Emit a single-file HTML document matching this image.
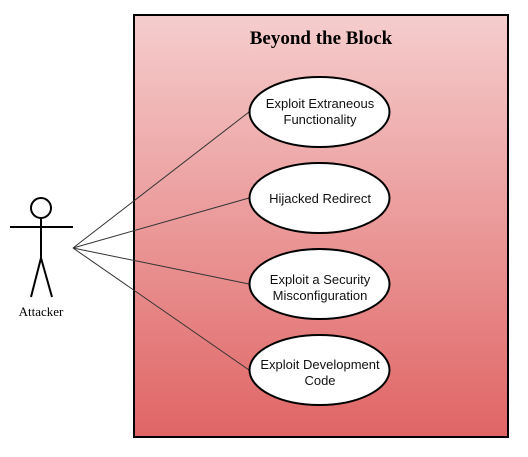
<!DOCTYPE html>
<html><head><style>html,body{margin:0;padding:0;background:#fff;}svg{display:block}</style></head>
<body>
<svg width="528" height="457" viewBox="0 0 528 457" xmlns="http://www.w3.org/2000/svg">
<defs><linearGradient id="g" x1="0" y1="0" x2="0" y2="1"><stop offset="0" stop-color="#f5cdcd"/><stop offset="1" stop-color="#e06565"/></linearGradient></defs>
<rect x="134" y="15" width="374" height="422" fill="url(#g)" stroke="#000" stroke-width="2"/>
<text x="321" y="44" text-anchor="middle" font-family="Liberation Serif, serif" font-weight="bold" font-size="19">Beyond the Block</text>
<g stroke="#333" stroke-width="1" fill="none">
<line x1="73" y1="248" x2="249" y2="112"/>
<line x1="73" y1="248" x2="249" y2="198"/>
<line x1="73" y1="248" x2="249" y2="284"/>
<line x1="73" y1="248" x2="249" y2="370"/>
</g>
<g stroke="#000" stroke-width="2" fill="#fff">
<ellipse cx="319.5" cy="112" rx="70" ry="35"/>
<ellipse cx="319.5" cy="198" rx="70" ry="35"/>
<ellipse cx="319.5" cy="284" rx="70" ry="35"/>
<ellipse cx="319.5" cy="370" rx="70" ry="35"/>
</g>
<g font-family="Liberation Sans, sans-serif" font-size="13" text-anchor="middle" fill="#111">
<text x="320" y="108">Exploit Extraneous</text><text x="320" y="124">Functionality</text>
<text x="320" y="203">Hijacked Redirect</text>
<text x="320" y="284">Exploit a Security</text><text x="320" y="300">Misconfiguration</text>
<text x="320" y="369">Exploit Development</text><text x="320" y="385">Code</text>
</g>
<g stroke="#000" stroke-width="2" fill="#fff">
<circle cx="41" cy="208" r="10"/>
<line x1="41" y1="218" x2="41" y2="258" fill="none"/>
<line x1="10" y1="227" x2="73" y2="227"/>
<line x1="41" y1="258" x2="31" y2="297"/>
<line x1="41" y1="258" x2="52" y2="297"/>
</g>
<text x="41" y="316" text-anchor="middle" font-family="Liberation Serif, serif" font-size="13">Attacker</text>
</svg>
</body></html>
